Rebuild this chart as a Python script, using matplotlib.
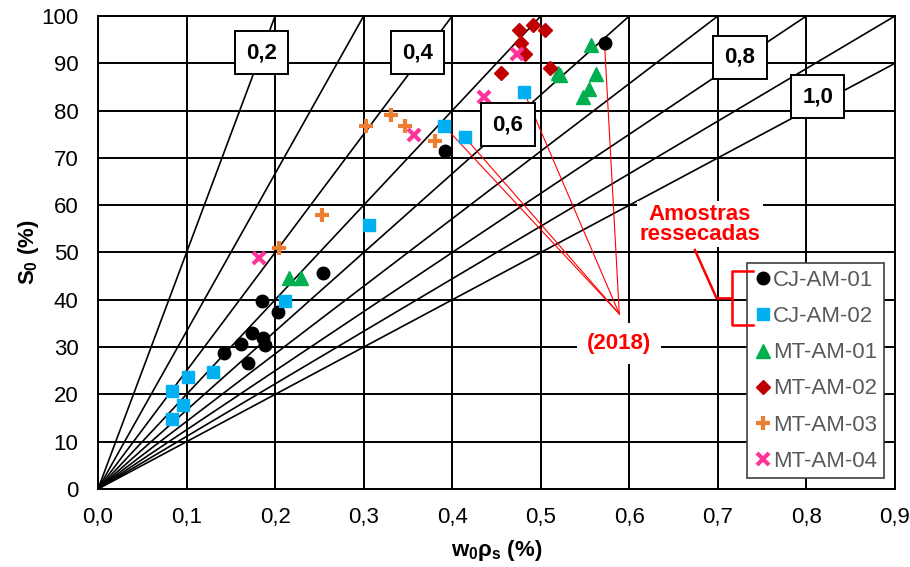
import numpy as np
import matplotlib
matplotlib.use('Agg')
import matplotlib.pyplot as plt

plt.rcParams['font.family'] = ['Liberation Sans', 'DejaVu Sans']
plt.rcParams['mathtext.fontset'] = 'custom'
plt.rcParams['mathtext.rm'] = 'Liberation Sans:bold'
plt.rcParams['mathtext.it'] = 'Liberation Sans:bold'
plt.rcParams['mathtext.bf'] = 'Liberation Sans:bold'

# data (x = w0*rho_s, y = S0 %)
cj01_x = [0.572, 0.392, 0.254, 0.1855, 0.2036, 0.1742, 0.186, 0.1886, 0.1611, 0.1423, 0.169]
cj01_y = [94.2, 71.5, 45.7, 39.8, 37.5, 32.9, 31.9, 30.4, 30.7, 28.7, 26.6]

cj02_x = [0.481, 0.391, 0.414, 0.306, 0.211, 0.130, 0.102, 0.083, 0.096, 0.083]
cj02_y = [84.0, 76.7, 74.4, 55.8, 39.8, 24.8, 23.7, 20.8, 17.8, 14.8]

mt01_x = [0.557, 0.519, 0.522, 0.562, 0.554, 0.548, 0.216, 0.229]
mt01_y = [93.9, 87.9, 87.6, 87.7, 84.6, 82.8, 44.5, 44.5]

mt02_x = [0.475, 0.491, 0.505, 0.478, 0.482, 0.455, 0.510]
mt02_y = [97.0, 98.0, 97.0, 94.2, 91.9, 87.9, 88.9]

mt03_x = [0.303, 0.331, 0.347, 0.381, 0.2525, 0.204]
mt03_y = [76.7, 79.1, 76.7, 73.6, 57.9, 51.0]

mt04_x = [0.473, 0.436, 0.357, 0.182]
mt04_y = [91.9, 82.9, 74.8, 48.8]

# void ratio lines S = 100 * x / e
void_ratios = [0.2, 0.3, 0.4, 0.5, 0.6, 0.7, 0.8, 0.9, 1.0]
line_labels = ['0,2', '0,4', '0,6', '0,8', '1,0']
label_pos = [(0.185, 92.2), (0.361, 92.2), (0.463, 77.0), (0.725, 91.3), (0.813, 82.9)]

# points marked as "(2018)"
marked_x = [0.391, 0.414, 0.481, 0.572]
marked_y = [76.7, 74.4, 84.0, 94.2]
marked_target = (0.5887, 37.0)

fig = plt.figure(figsize=(9.1, 5.67), dpi=100)
ax = fig.add_axes([0.1077, 0.1376, 0.8758, 0.8342])

ax.set_xlim(0, 0.9)
ax.set_ylim(0, 100)
ax.set_xticks(np.arange(0, 0.91, 0.1))
ax.set_yticks(np.arange(0, 101, 10))
ax.set_xticklabels([('%.1f' % v).replace('.', ',') for v in np.arange(0, 0.91, 0.1)])
ax.tick_params(length=0, labelsize=16, labelcolor='#000000')
ax.tick_params(axis='x', pad=13)
ax.tick_params(axis='y', pad=14)
ax.grid(True, color='black', lw=1.4, zorder=0)
ax.set_axisbelow(True)
for s in ax.spines.values():
    s.set_linewidth(1.4)

for e in void_ratios:
    xe = np.array([0, min(e, 0.9)])
    ax.plot(xe, 100 * xe / e, color='black', lw=1.2, zorder=1)

for txt, (lx, ly) in zip(line_labels, label_pos):
    ax.text(lx, ly, txt, fontsize=16, fontweight='bold', ha='center', va='center', zorder=4,
            bbox=dict(boxstyle='square,pad=0.5', fc='white', ec='black', lw=1.4))

for mx, my in zip(marked_x, marked_y):
    ax.plot([mx, marked_target[0]], [my, marked_target[1]], color='red', lw=0.8, zorder=2)

ax.text(0.5887, 30.8, '(2018)', color='red', fontsize=16, fontweight='bold',
        ha='center', va='center', zorder=4,
        bbox=dict(boxstyle='square,pad=0.45', fc='white', ec='none'))
ax.text(0.6798, 56.0, 'Amostras\nressecadas', color='red', fontsize=16, fontweight='bold',
        ha='center', va='center', linespacing=0.95, zorder=4,
        bbox=dict(boxstyle='square,pad=0.1', fc='white', ec='none'))

# bracket pointing at the CJ series in the legend
ax.plot([0.6741, 0.6986, 0.7155], [50.5, 40.3, 40.3], color='red', lw=1.8, zorder=6)
ax.plot([0.7393, 0.7155, 0.7155, 0.7393], [46.15, 46.15, 34.7, 34.7], color='red', lw=1.8, zorder=6)

ax.plot(cj01_x, cj01_y, 'o', color='black', ms=9, ls='none', label='CJ-AM-01', zorder=3)
ax.plot(cj02_x, cj02_y, 's', color='#00B0F0', ms=8.2, ls='none', label='CJ-AM-02', zorder=3)
ax.plot(mt01_x, mt01_y, '^', color='#00B050', ms=9.5, ls='none', label='MT-AM-01', zorder=3)
ax.plot(mt02_x, mt02_y, 'D', color='#C00000', ms=7.5, ls='none', label='MT-AM-02', zorder=3)
ax.plot(mt03_x, mt03_y, '+', color='#ED7D31', ms=10, mew=3, ls='none', label='MT-AM-03', zorder=3)
ax.plot(mt04_x, mt04_y, 'x', color='#FF3399', ms=9, mew=3, ls='none', label='MT-AM-04', zorder=3)

leg = ax.legend(loc='lower right', bbox_to_anchor=(0.986, 0.0226), fontsize=16, frameon=True,
                fancybox=False, edgecolor='#404040', framealpha=1, labelcolor='#595959',
                handlelength=0.8, handletextpad=0.05, labelspacing=0.68, borderpad=0.3,
                borderaxespad=0)
leg.get_frame().set_linewidth(1.2)
leg.set_zorder(5)

ax.set_xlabel(r'$w_0\rho_s$ (%)', fontsize=16, fontweight='bold')
ax.set_ylabel(r'$S_0$ (%)', fontsize=16, fontweight='bold')
ax.xaxis.set_label_coords(0.5, -0.131)
ax.yaxis.set_label_coords(-0.0866, 0.5)
ax.xaxis.label.set_va('center')
ax.yaxis.label.set_va('center')

fig.savefig('out.png', dpi=100)
